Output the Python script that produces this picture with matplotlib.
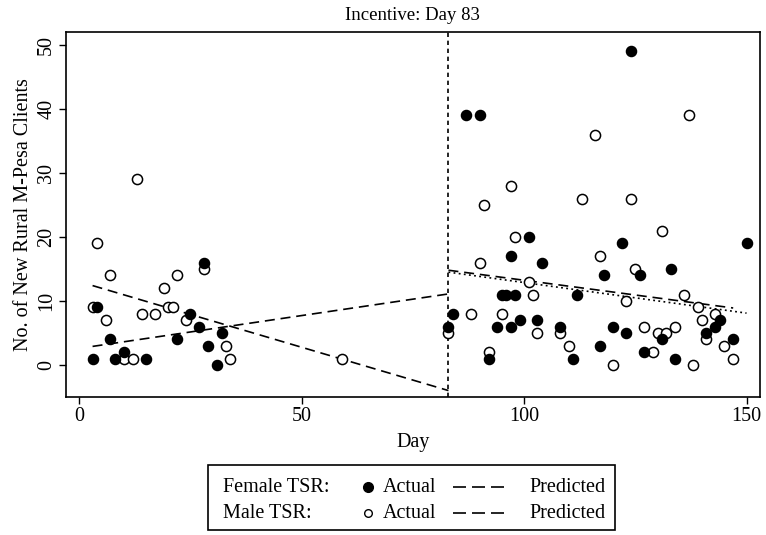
import matplotlib
matplotlib.use("Agg")
import matplotlib.pyplot as plt
from matplotlib.lines import Line2D
from matplotlib.patches import Rectangle

plt.rcParams['font.family'] = ['Liberation Serif', 'DejaVu Serif']
plt.rcParams['font.size'] = 14.5

# Incentive day
cutoff = 83

# Female TSR actual (filled)
female_day = [3, 4, 7, 8, 10, 15, 22, 25, 27, 28, 29, 31, 32,
              83, 84, 87, 90, 92, 94, 95, 96, 97, 97, 98, 99, 101, 103, 104,
              108, 111, 112, 117, 118, 120, 122, 123, 124, 126, 127, 131,
              133, 134, 141, 143, 144, 147, 150]
female_val = [1, 9, 4, 1, 2, 1, 4, 8, 6, 16, 3, 0, 5,
              6, 8, 39, 39, 1, 6, 11, 11, 6, 17, 11, 7, 20, 7, 16,
              6, 1, 11, 3, 14, 6, 19, 5, 49, 14, 2, 4,
              15, 1, 5, 6, 7, 4, 19]

# Male TSR actual (open)
male_day = [3, 4, 6, 7, 10, 12, 13, 14, 17, 19, 20, 21, 22, 24, 28, 33, 34, 59,
            83, 88, 90, 91, 92, 95, 97, 98, 101, 102, 103, 108, 110, 113, 116,
            117, 120, 123, 124, 125, 127, 129, 130, 131, 132, 134, 136, 137,
            138, 139, 140, 141, 143, 145, 147]
male_val = [9, 19, 7, 14, 1, 1, 29, 8, 8, 12, 9, 9, 14, 7, 15, 3, 1, 1,
            5, 8, 16, 25, 2, 8, 28, 20, 13, 11, 5, 5, 3, 26, 36,
            17, 0, 10, 26, 15, 6, 2, 5, 21, 5, 6, 11, 39,
            0, 9, 7, 4, 8, 3, 1]

# Predicted lines (start/end day, start/end value)
female_pre_x = [3, 83]
female_pre_y = [2.9, 11.1]
male_pre_x = [3, 83]
male_pre_y = [12.4, -4.0]
female_post_x = [83, 150]
female_post_y = [14.5, 8.1]
male_post_x = [83, 147]
male_post_y = [14.8, 8.9]

fig = plt.figure(figsize=(7.66, 5.35), dpi=100)
ax = fig.add_axes([0.086, 0.258, 0.906, 0.682])

ax.plot(female_pre_x, female_pre_y, color='black', lw=1.2, dashes=(6, 3.5))
ax.plot(male_pre_x, male_pre_y, color='black', lw=1.2, dashes=(6, 3.5))
ax.plot(male_post_x, male_post_y, color='black', lw=1.2, dashes=(6, 3.5))
ax.plot(female_post_x, female_post_y, color='black', lw=1.2, dashes=(1.1, 2))

ax.axvline(cutoff, color='black', lw=1.2, dashes=(2.6, 2.2))

ax.plot(male_day, male_val, 'o', ms=7.3, mfc='white', mec='black', mew=1.1,
        linestyle='none', zorder=3)
ax.plot(female_day, female_val, 'o', ms=7.3, mfc='black', mec='black',
        linestyle='none', zorder=4)

ax.set_xlim(-3, 153)
ax.set_ylim(-5, 52)
ax.set_xticks([0, 50, 100, 150])
ax.set_yticks([0, 10, 20, 30, 40, 50])
ax.tick_params(direction='out', length=5, width=1, pad=2)
for lab in ax.get_yticklabels():
    lab.set_rotation(90)
    lab.set_va('center')
ax.set_xlabel('Day', labelpad=5)
ax.set_ylabel('No. of New Rural M-Pesa Clients', labelpad=3)
ax.set_title('Incentive: Day 83', fontsize=13.5, pad=9)
for s in ax.spines.values():
    s.set_linewidth(1.2)

# legend box drawn by hand
W, H = 766.0, 535.0
def fx(px):
    return px / W
def fy(py):
    return 1 - py / H

fig.patches.append(Rectangle((fx(208), fy(530)), fx(615) - fx(208), fy(465) - fy(530),
                             transform=fig.transFigure, fill=False, ec='black', lw=1.2))
rows = [(487, 'Female TSR:', 'black'), (513, 'Male TSR:', 'white')]
for py, name, fc in rows:
    fig.text(fx(223), fy(py), name, va='center', ha='left', fontsize=14.5)
    fig.add_artist(Line2D([fx(368)], [fy(py)], marker='o', ms=7 if fc == 'black' else 5.5,
                          mfc=fc, mec='black', mew=1.0, transform=fig.transFigure))
    fig.text(fx(383), fy(py), 'Actual', va='center', ha='left', fontsize=14.5)
    fig.add_artist(Line2D([fx(453), fx(504)], [fy(py), fy(py)], color='black', lw=1.2,
                          dashes=(7.8, 3.6), transform=fig.transFigure))
    fig.text(fx(529), fy(py), 'Predicted', va='center', ha='left', fontsize=14.5)

fig.savefig('out.png', dpi=100)
